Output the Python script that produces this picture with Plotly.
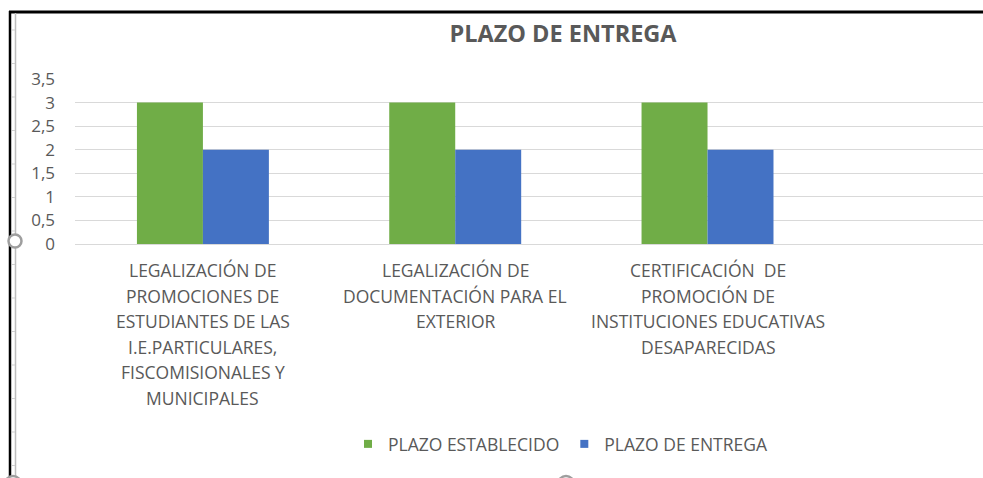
import plotly.graph_objects as go

# ---- data ----
categories = [
    "LEGALIZACIÓN DE PROMOCIONES DE ESTUDIANTES DE LAS I.E.PARTICULARES, FISCOMISIONALES Y MUNICIPALES",
    "LEGALIZACIÓN DE DOCUMENTACIÓN PARA EL EXTERIOR",
    "CERTIFICACIÓN  DE PROMOCIÓN DE INSTITUCIONES EDUCATIVAS DESAPARECIDAS",
]
category_lines = [
    ["LEGALIZACIÓN DE", "PROMOCIONES DE", "ESTUDIANTES DE LAS", "I.E.PARTICULARES,",
     "FISCOMISIONALES Y", "MUNICIPALES"],
    ["LEGALIZACIÓN DE", "DOCUMENTACIÓN PARA EL", "EXTERIOR"],
    ["CERTIFICACIÓN  DE", "PROMOCIÓN DE", "INSTITUCIONES EDUCATIVAS", "DESAPARECIDAS"],
]
series_names = ["PLAZO ESTABLECIDO", "PLAZO DE ENTREGA"]
plazo_establecido = [3, 3, 3]
plazo_entrega = [2, 2, 2]
y_ticks = [0, 0.5, 1, 1.5, 2, 2.5, 3, 3.5]
colors = ["#70AD47", "#4472C4"]

W, H = 983, 478
L, R, T, B = 75, 0, 79, 234
PW, PH = W - L - R, H - T - B
FONT = "'Open Sans', sans-serif"
GRAY = "#595959"


def px(x):
    return (x - L) / PW


def py(y):
    return (H - B - y) / PH


fig = go.Figure()
for name, vals, col in zip(series_names, [plazo_establecido, plazo_entrega], colors):
    fig.add_trace(go.Bar(x=categories, y=vals, name=name, showlegend=False,
                         marker=dict(color=col, line=dict(width=0))))
# legend entries with small square swatches
for name, col in zip(series_names, colors):
    fig.add_trace(go.Scatter(x=[None], y=[None], mode="markers", name=name,
                             marker=dict(symbol="square", size=8, color=col)))

annotations = []
for cat, lines in zip(categories, category_lines):
    for i, ln in enumerate(lines):
        annotations.append(dict(
            x=cat, xref="x", y=py(270 + i * 25.5), yref="paper",
            text=ln, showarrow=False, xanchor="center", yanchor="middle",
            font=dict(family=FONT, size=17.5, color=GRAY)))

shapes = []
# frame lines
shapes.append(dict(type="line", xref="paper", yref="paper", x0=px(9), x1=px(983),
                   y0=py(12), y1=py(12), line=dict(color="#000000", width=3)))
shapes.append(dict(type="line", xref="paper", yref="paper", x0=px(10), x1=px(10),
                   y0=py(11), y1=py(478), line=dict(color="#000000", width=2.5)))
shapes.append(dict(type="line", xref="paper", yref="paper", x0=px(15.5), x1=px(15.5),
                   y0=py(13), y1=py(478), line=dict(color="#BDBDBD", width=1.5)))
for k in range(14):
    yy = 30 + k * 33.5
    shapes.append(dict(type="line", xref="paper", yref="paper", x0=px(12), x1=px(15),
                       y0=py(yy), y1=py(yy), line=dict(color="#CFCFCF", width=1)))
for cx, cy, r in [(15, 241, 6.5), (13, 484, 8), (566, 484, 8)]:
    shapes.append(dict(type="circle", xref="paper", yref="paper",
                       x0=px(cx - r), x1=px(cx + r), y0=py(cy + r), y1=py(cy - r),
                       line=dict(color="#9E9E9E", width=2.5), fillcolor="white"))

fig.update_layout(
    width=W, height=H,
    margin=dict(l=L, r=R, t=T, b=B, pad=0),
    paper_bgcolor="white", plot_bgcolor="white",
    separators=",.",
    barmode="group", bargap=0.477, bargroupgap=0,
    title=dict(text="<b>PLAZO DE ENTREGA</b>", x=563 / W, xref="container", xanchor="center",
               y=1 - 34 / H, yref="container", yanchor="middle",
               font=dict(family=FONT, size=23.5, color=GRAY)),
    xaxis=dict(range=[-0.507, -0.507 + PW / 252.3], showticklabels=False, showgrid=False,
               zeroline=False, showline=False, ticks="", fixedrange=True),
    yaxis=dict(range=[0, 3.5], tickvals=y_ticks, showgrid=True, gridcolor="#D9D9D9",
               gridwidth=1, zeroline=True, zerolinecolor="#D9D9D9", zerolinewidth=1,
               showline=False, ticks="", ticklabelstandoff=19,
               tickfont=dict(family=FONT, size=17, color=GRAY)),
    legend=dict(orientation="h", x=px(348), xanchor="left", y=py(444), yanchor="middle",
                font=dict(family=FONT, size=17.5, color=GRAY), itemwidth=30,
                bgcolor="rgba(0,0,0,0)", borderwidth=0),
    showlegend=True,
    annotations=annotations,
    shapes=shapes,
)

fig.write_html("out.html", config={"displayModeBar": False},
               post_script="document.body.style.margin='0';document.body.style.overflow='hidden';")
